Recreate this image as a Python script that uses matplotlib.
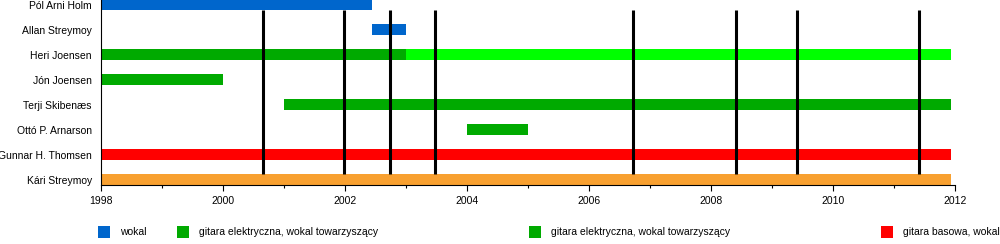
import matplotlib
matplotlib.use("Agg")
import matplotlib.pyplot as plt
from matplotlib.patches import Rectangle

plt.rcParams['font.family'] = ['Liberation Sans', 'DejaVu Sans']

# ---- data ----
members = ["Pól Arni Holm", "Allan Streymoy", "Heri Joensen", "Jón Joensen",
           "Terji Skibenæs", "Ottó P. Arnarson", "Gunnar H. Thomsen", "Kári Streymoy"]
# (member, start, end, role)
periods = [
    ("Pól Arni Holm", 1998.0, 2002.44, "wokal"),
    ("Allan Streymoy", 2002.44, 2003.0, "wokal"),
    ("Heri Joensen", 1998.0, 2003.0, "gitara1"),
    ("Heri Joensen", 2003.0, 2011.93, "wokal_gitara"),
    ("Jón Joensen", 1998.0, 2000.0, "gitara1"),
    ("Terji Skibenæs", 2001.0, 2011.93, "gitara2"),
    ("Ottó P. Arnarson", 2004.0, 2005.0, "gitara2"),
    ("Gunnar H. Thomsen", 1998.0, 2011.93, "bas"),
    ("Kári Streymoy", 1998.0, 2011.93, "perkusja"),
]
role_colors = {
    "wokal": "#0066CC",
    "gitara1": "#00AA00",
    "wokal_gitara": "#00FF00",
    "gitara2": "#00AA00",
    "bas": "#FF0000",
    "perkusja": "#F8A030",
}
album_years = [2000.66, 2001.98, 2002.74, 2003.48, 2006.72, 2008.41, 2009.41, 2011.41]
legend_labels = ["wokal", "gitara elektryczna, wokal towarzyszący",
                 "gitara elektryczna, wokal towarzyszący", "gitara basowa, wokal"]
legend_colors = ["#0066CC", "#00AA00", "#00AA00", "#FF0000"]
legend_x = [0.098, 0.177, 0.529, 0.881]
x_ticks = [1998, 2000, 2002, 2004, 2006, 2008, 2010, 2012]

FS = 7.5

# ---- figure ----
fig = plt.figure(figsize=(10, 2.44), dpi=100)
ax = fig.add_axes([0.101, 1 - 185 / 244, 0.854, 185 / 244])

bar_h = 0.432
for name, s, e, role in periods:
    y = members.index(name)
    ax.barh(y, e - s, left=s, height=bar_h, color=role_colors[role], linewidth=0, zorder=2)

for yr in album_years:
    ax.plot([yr, yr], [bar_h / 2, len(members) - 1 - bar_h / 2], color="black",
            linewidth=2.2, zorder=3, solid_capstyle="butt")

ax.set_xlim(1998, 2012)
ax.set_ylim(7.216, -0.184)
ax.set_yticks(range(len(members)))
ax.set_yticklabels(members, fontsize=FS)
ax.tick_params(axis="y", length=0, pad=6.5)
ax.set_xticks(x_ticks)
ax.set_xticklabels([str(t) for t in x_ticks], fontsize=FS)
ax.set_xticks(range(1998, 2013), minor=True)
ax.tick_params(axis="x", which="major", length=4.3, width=0.8, pad=3.8)
ax.tick_params(axis="x", which="minor", length=2.2, width=0.8)
for sp in ["top", "right"]:
    ax.spines[sp].set_visible(False)
ax.spines["left"].set_linewidth(0.8)
ax.spines["bottom"].set_linewidth(0.8)

# ---- legend ----
sq_w = 12 / 1000
sq_h = 12 / 244
for lx, lab, col in zip(legend_x, legend_labels, legend_colors):
    fig.patches.append(Rectangle((lx, 1 - 238 / 244), sq_w, sq_h, transform=fig.transFigure,
                                 facecolor=col, edgecolor="none"))
    fig.text(lx + 0.022, 1 - 232 / 244, lab, fontsize=FS, va="center", ha="left")

fig.savefig("out.png", dpi=100)
